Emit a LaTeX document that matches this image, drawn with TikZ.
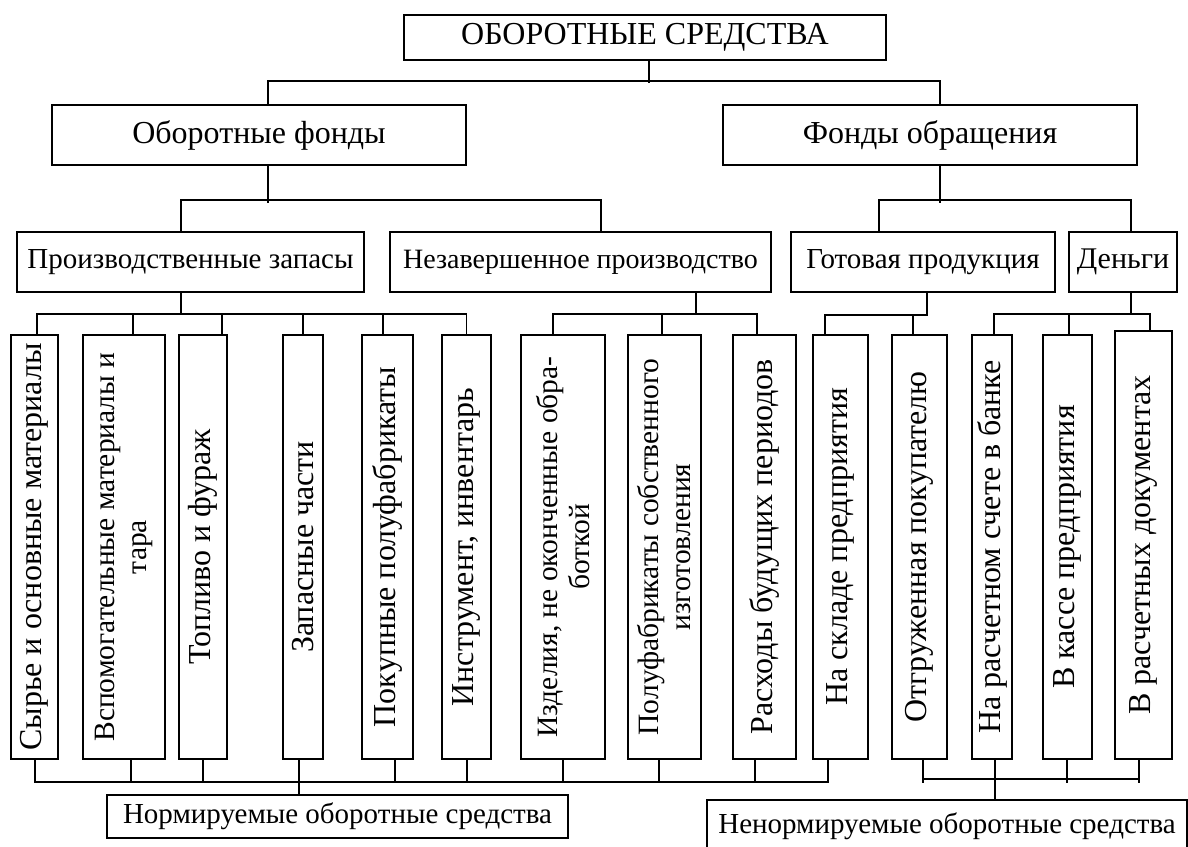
\documentclass[tikz,border=0pt]{standalone}
\usepackage{fontspec}
\setmainfont{Liberation Serif}
\usepackage{tikz}

\tikzset{
  box/.style={draw, line width=1.6pt, inner sep=0pt, align=center},
  big/.style={box, font=\fontsize{32}{36}\selectfont, minimum height=60},
  mid/.style={box, font=\fontsize{29}{33}\selectfont, minimum height=60},
  vbox/.style={box, rotate=90, font=\fontsize{32}{34}\selectfont, minimum width=424},
  vbox2/.style={vbox, font=\fontsize{29.5}{32}\selectfont},
  link/.style={line width=1.6pt}
}

\begin{document}
\begin{tikzpicture}[x=1pt, y=-1pt]
    \useasboundingbox (0,0) rectangle (1188,846);

    % upper levels
    \node[big, minimum width=482, minimum height=45] (top) at (645,37.5) {ОБОРОТНЫЕ СРЕДСТВА};
    \node[big, minimum width=414] (ofond) at (259,135) {Оборотные фонды};
    \node[big, minimum width=414] (fobr) at (930,135) {Фонды обращения};
    \node[mid, minimum width=347] (zapas) at (190.5,262) {Производственные запасы};
    \node[mid, minimum width=381, font=\fontsize{28}{32}\selectfont] (nezav) at (580.5,262) {Незавершенное производство};
    \node[mid, minimum width=264] (gotov) at (923,262) {Готовая продукция};
    \node[mid, minimum width=108, font=\fontsize{30}{34}\selectfont] (dengi) at (1123,262) {Деньги};

    % vertical boxes
    \node[vbox, minimum height=47] (v1) at (34.5,547) {Сырье и основные материалы};
    \node[vbox2, minimum height=82] (v2) at (124,547) {Вспомогательные материалы и\\тара};
    \node[vbox, minimum height=48] (v3) at (203,547) {Топливо и фураж};
    \node[vbox, minimum height=40] (v4) at (303,547) {Запасные части};
    \node[vbox, minimum height=51] (v5) at (387.5,547) {Покупные полуфабрикаты};
    \node[vbox, minimum height=49] (v6) at (466.5,547) {Инструмент, инвентарь};
    \node[vbox2, minimum height=84] (v7) at (563,547) {Изделия, не оконченные обра-\\боткой};
    \node[vbox2, minimum height=73] (v8) at (664.5,547) {Полуфабрикаты собственного\\изготовления};
    \node[vbox, minimum height=63] (v9) at (764.5,547) {Расходы будущих периодов};
    \node[vbox, minimum height=55] (v10) at (840.5,547) {На складе предприятия};
    \node[vbox, minimum height=55] (v11) at (919.5,547) {Отгруженная покупателю};
    \node[vbox, minimum height=40] (v12) at (992,547) {На расчетном счете в банке};
    \node[vbox, minimum height=49] (v13) at (1067.5,547) {В кассе предприятия};
    \node[vbox, minimum height=57, minimum width=428] (v14) at (1143.5,545) {В расчетных документах};

    % bottom labels
    \node[mid, minimum width=461, minimum height=43] (norm) at (337.5,816.5) {Нормируемые оборотные средства};
    \node[mid, minimum width=480, minimum height=52] (nenorm) at (947,826) {Ненормируемые оборотные средства};

    % tree lines
    \draw[link] ([xshift=4]top.south) -- ++(0,22);
    \draw[link] ([xshift=9]ofond.north) -- ++(0,-23) -| ([xshift=10]fobr.north);
    \draw[link] ([xshift=9]ofond.south) -- ++(0,37);
    \draw[link] ([xshift=-9.5]zapas.north) -- ++(0,-31) -| ([xshift=20.5]nezav.north);
    \draw[link] ([xshift=10]fobr.south) -- ++(0,37);
    \draw[link] ([xshift=-44]gotov.north) -- ++(0,-31) -| ([xshift=8]dengi.north);

    \draw[link] ([xshift=-9.5]zapas.south) -- ++(0,22);
    \draw[link] ([xshift=2.5]v1.east) -- ++(0,-20) -| (v6.east);
    \foreach \n/\d in {v2/9, v3/19, v4/0, v5/-4.5}
        \draw[link] ([xshift=\d]\n.east) -- ++(0,-20);

    \draw[link] ([xshift=115.5]nezav.south) -- ++(0,22);
    \draw[link] ([xshift=-10]v7.east) -- ++(0,-20) -| ([xshift=-7.5]v9.east);
    \draw[link] ([xshift=-2.5]v8.east) -- ++(0,-20);

    \draw[link] ([xshift=4]gotov.south) -- ++(0,22) -| ([xshift=-15.5]v10.east);
    \draw[link] ([xshift=-6.5]v11.east) -- ++(0,-20);

    \draw[link] ([xshift=8]dengi.south) -- ++(0,22);
    \draw[link] ([xshift=2]v12.east) -- ++(0,-20) -| ([xshift=6.5]v14.east);
    \draw[link] ([xshift=1.5]v13.east) -- ++(0,-20);

    % normed / not normed
    \draw[link] ([xshift=0.5]v1.west) -- ++(0,22) -| ([xshift=-12.5]v10.west);
    \foreach \n/\d in {v2/7, v3/0, v5/7.5, v6/0.5, v7/0, v8/-5.5, v9/-9.5}
        \draw[link] ([xshift=\d]\n.west) -- ++(0,22);
    \draw[link] ([xshift=-4]v4.west) -- ([xshift=-38.5]norm.north);

    \path ([xshift=3.5]v11.west) ++(0,19) coordinate (r1);
    \path ([xshift=-4.5]v14.west) ++(0,19) coordinate (r2);
    \draw[link] (r1) -- (r2);
    \foreach \n/\d in {v11/3.5, v13/-0.5, v14/-4.5}
        \draw[link] ([xshift=\d]\n.west) -- ++(0,23);
    \draw[link] ([xshift=3]v12.west) -- ([xshift=48]nenorm.north);
\end{tikzpicture}
\end{document}
